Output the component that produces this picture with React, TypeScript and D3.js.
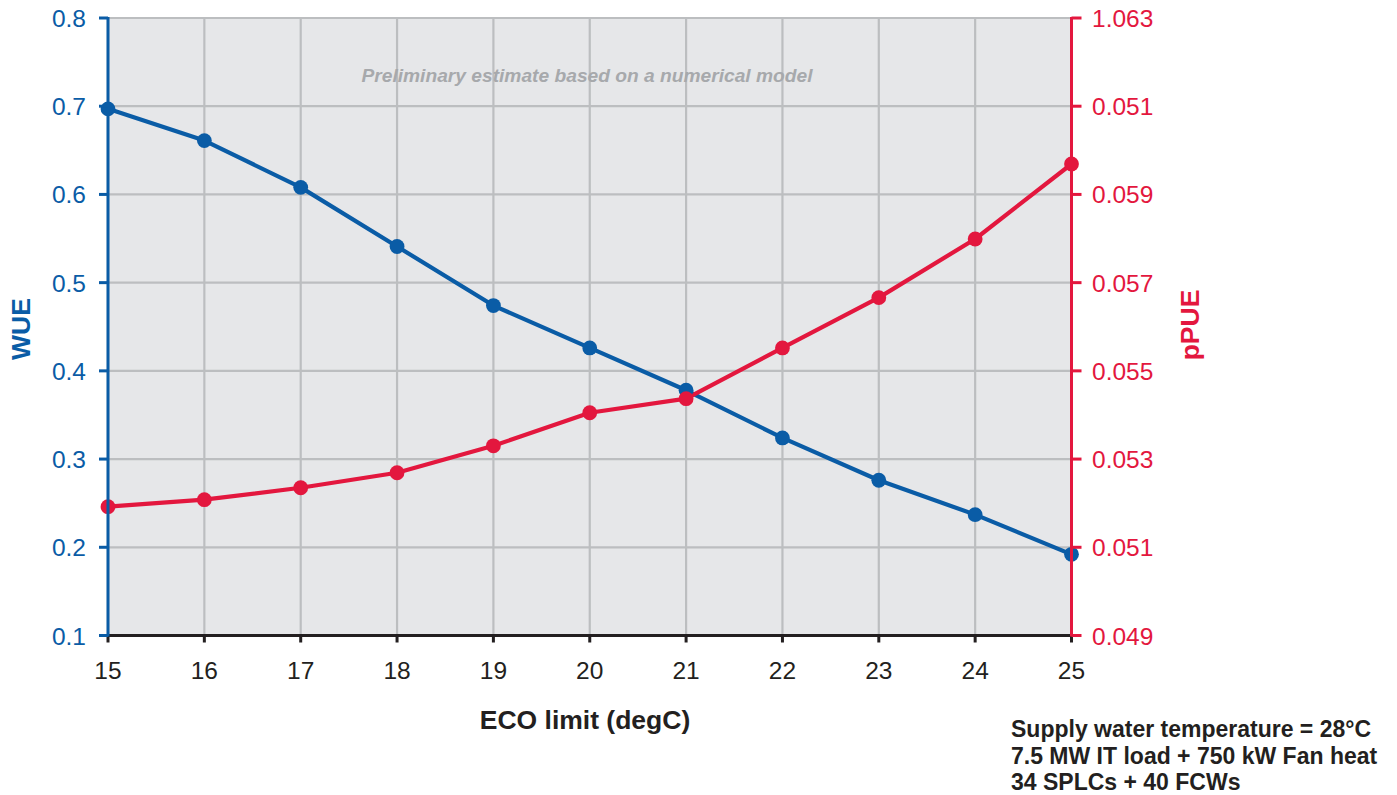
import React from "react";
import * as d3 from "d3";

const ecoLimits = [15, 16, 17, 18, 19, 20, 21, 22, 23, 24, 25];
const wueValues = [0.697, 0.661, 0.608, 0.541, 0.474, 0.426, 0.378, 0.324, 0.276, 0.237, 0.192];
const ppueValues = [0.05192, 0.05208, 0.05235, 0.05269, 0.0533, 0.05405, 0.05437, 0.05552, 0.05666, 0.05799, 0.05969];
const wueTicks = [0.1, 0.2, 0.3, 0.4, 0.5, 0.6, 0.7, 0.8];
const ppueTicks = [0.049, 0.051, 0.053, 0.055, 0.057, 0.059, 0.061, 0.063];
const ppueTickLabels = ["0.049", "0.051", "0.053", "0.055", "0.057", "0.059", "0.051", "1.063"];
const noteLines = [
  "Supply water temperature = 28°C",
  "7.5 MW IT load + 750 kW Fan heat",
  "34 SPLCs + 40 FCWs",
];

const BLUE = "#0a5ca6";
const RED = "#e3173e";
const FONT = "'Liberation Sans', Arial, Helvetica, sans-serif";

export default function App() {
  const W = 1397;
  const H = 795;
  const left = 108;
  const right = 1071.5;
  const top = 18;
  const bottom = 635.5;

  const x = d3.scaleLinear().domain([15, 25]).range([left, right]);
  const yL = d3.scaleLinear().domain([0.1, 0.8]).range([bottom, top]);
  const yR = d3.scaleLinear().domain([0.049, 0.063]).range([bottom, top]);

  const lineL = d3
    .line<number>()
    .x((_, i) => x(ecoLimits[i]))
    .y((d) => yL(d));
  const lineR = d3
    .line<number>()
    .x((_, i) => x(ecoLimits[i]))
    .y((d) => yR(d));

  const tickFs = 24.5;

  return (
    <svg
      width={W}
      height={H}
      style={{ position: "absolute", left: 0, top: 0, background: "#fff" }}
      fontFamily={FONT}
    >
      <rect x={left} y={top} width={right - left} height={bottom - top} fill="#e6e7e9" />
      {ecoLimits.map((v) => (
        <line key={"vg" + v} x1={x(v)} x2={x(v)} y1={top} y2={bottom} stroke="#bcbec0" strokeWidth={2.2} />
      ))}
      {ppueTicks.map((v) => (
        <line key={"hg" + v} x1={left} x2={right} y1={yR(v)} y2={yR(v)} stroke="#bcbec0" strokeWidth={2.2} />
      ))}
      <text
        x={587}
        y={82}
        textAnchor="middle"
        fontSize={19.2}
        fontWeight="bold"
        fontStyle="italic"
        fill="#a7a9ac"
      >
        Preliminary estimate based on a numerical model
      </text>

      <path d={lineL(wueValues) || ""} fill="none" stroke={BLUE} strokeWidth={4.2} strokeLinejoin="round" />
      <path d={lineR(ppueValues) || ""} fill="none" stroke={RED} strokeWidth={4.2} strokeLinejoin="round" />
      {wueValues.map((v, i) => (
        <circle key={"bc" + i} cx={x(ecoLimits[i])} cy={yL(v)} r={7.4} fill={BLUE} />
      ))}
      {ppueValues.map((v, i) => (
        <circle key={"rc" + i} cx={x(ecoLimits[i])} cy={yR(v)} r={7.4} fill={RED} />
      ))}

      <line x1={left - 1.5} x2={right + 1.5} y1={bottom} y2={bottom} stroke="#231f20" strokeWidth={3} />
      {ecoLimits.map((v) => (
        <g key={"xt" + v}>
          <line x1={x(v)} x2={x(v)} y1={bottom} y2={bottom + 7} stroke="#231f20" strokeWidth={3} />
          <text x={x(v)} y={679} textAnchor="middle" fontSize={tickFs} fill="#231f20">
            {v}
          </text>
        </g>
      ))}
      <text x={585} y={729} textAnchor="middle" fontSize={26.5} fontWeight="bold" fill="#231f20">
        ECO limit (degC)
      </text>

      <line x1={left} x2={left} y1={top - 1} y2={bottom + 1} stroke={BLUE} strokeWidth={3} />
      {wueTicks.map((v) => (
        <g key={"lt" + v}>
          <line x1={left - 9} x2={left} y1={yL(v)} y2={yL(v)} stroke={BLUE} strokeWidth={3} />
          <text x={86} y={yL(v) + 9} textAnchor="end" fontSize={tickFs} fill={BLUE}>
            {v.toFixed(1)}
          </text>
        </g>
      ))}
      <text
        transform={`translate(30,${329}) rotate(-90)`}
        textAnchor="middle"
        fontSize={26.5}
        fontWeight="bold"
        fill={BLUE}
      >
        WUE
      </text>

      <line x1={right} x2={right} y1={top - 1} y2={bottom + 1} stroke={RED} strokeWidth={3} />
      {ppueTicks.map((v, i) => (
        <g key={"rt" + v}>
          <line x1={right} x2={right + 10} y1={yR(v)} y2={yR(v)} stroke={RED} strokeWidth={3} />
          <text x={1092} y={yR(v) + 9} textAnchor="start" fontSize={tickFs} fill={RED}>
            {ppueTickLabels[i]}
          </text>
        </g>
      ))}
      <text
        transform={`translate(1199,${325}) rotate(-90)`}
        textAnchor="middle"
        fontSize={26.5}
        fontWeight="bold"
        fill={RED}
      >
        pPUE
      </text>

      {noteLines.map((t, i) => (
        <text key={"n" + i} x={1011} y={737 + i * 26.5} fontSize={23} fontWeight="bold" fill="#231f20">
          {t}
        </text>
      ))}
    </svg>
  );
}
